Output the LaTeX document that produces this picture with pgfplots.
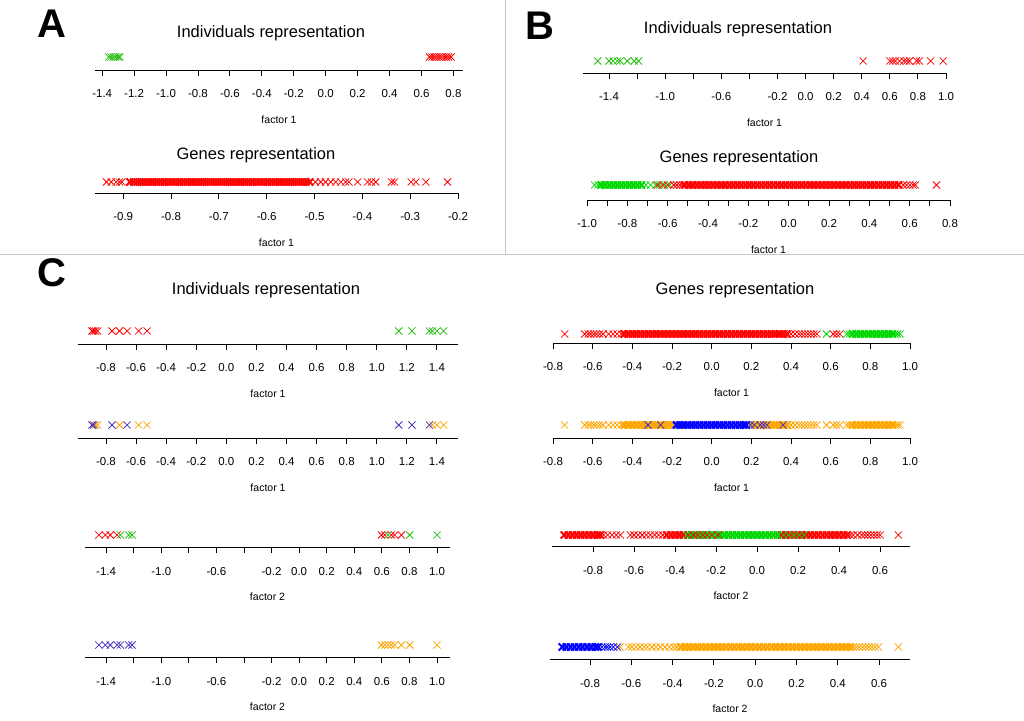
\documentclass[border=0pt]{standalone}
\usepackage{pgfplots}
\pgfplotsset{compat=1.18}
\usepackage{fontspec}
\setmainfont{Liberation Sans}
\definecolor{cred}{RGB}{255,0,0}
\definecolor{cgreen}{RGB}{0,215,0}
\definecolor{cgreenI}{RGB}{40,190,20}
\definecolor{cblue}{RGB}{0,0,255}
\definecolor{cpurple}{RGB}{70,50,190}
\definecolor{corange}{RGB}{255,165,0}
\pgfplotsset{
  strip/.style={
    scale only axis, anchor=south west,
    axis x line*=bottom, axis y line=none,
    ymin=-1, ymax=1, clip=false,
    tick align=outside, major tick length=6pt,
    axis line style={line width=0.9pt, black},
    xtick style={line width=0.9pt, black},
    xticklabel style={font=\fontsize{11.5}{12}\selectfont, anchor=base, yshift=-22pt},
    xlabel style={font=\fontsize{10.5}{12}\selectfont, at={(axis description cs:0.5,0)}, anchor=center, yshift=-50pt},
    xlabel={factor 1},
    every axis plot/.append style={only marks, mark=x, mark size=5pt, line width=0.75pt},
  },
  band/.style={line width=2pt},
}
\begin{document}
\begin{tikzpicture}
\useasboundingbox (0,0) rectangle (1024pt,720pt);
\draw[gray!45, line width=1pt] (505pt,720pt) -- (505pt,465pt);
\draw[gray!45, line width=1pt] (0pt,465pt) -- (1024pt,465pt);
\node[font=\fontsize{40}{44}\selectfont\bfseries] at (52pt,696pt) {A};
\node[font=\fontsize{40}{44}\selectfont\bfseries] at (540pt,694pt) {B};
\node[font=\fontsize{40}{44}\selectfont\bfseries] at (52pt,447pt) {C};
\node[font=\fontsize{16.5}{18}\selectfont] at (271pt,687pt) {Individuals representation};
\node[font=\fontsize{16.5}{18}\selectfont] at (256pt,565pt) {Genes representation};
\node[font=\fontsize{16.5}{18}\selectfont] at (738pt,691pt) {Individuals representation};
\node[font=\fontsize{16.5}{18}\selectfont] at (739pt,562pt) {Genes representation};
\node[font=\fontsize{16.5}{18}\selectfont] at (266pt,430pt) {Individuals representation};
\node[font=\fontsize{16.5}{18}\selectfont] at (735pt,430pt) {Genes representation};

% ---------- A individuals
\begin{axis}[strip, at={(95pt,650pt)}, width=368pt, height=26pt, xmin=-1.445, xmax=0.86,
  xtick={-1.4,-1.2,-1.0,-0.8,-0.6,-0.4,-0.2,0,0.2,0.4,0.6,0.8},
  xticklabels={-1.4,-1.2,-1.0,-0.8,-0.6,-0.4,-0.2,0.0,0.2,0.4,0.6,0.8}]
\addplot[cgreenI] coordinates {(-1.36,0) (-1.345,0) (-1.33,0) (-1.315,0) (-1.30,0) (-1.29,0)};
\addplot[cred] coordinates {(0.65,0) (0.665,0) (0.68,0) (0.695,0) (0.71,0) (0.725,0) (0.74,0) (0.755,0) (0.77,0) (0.785,0)};
\end{axis}

% ---------- A genes
\begin{axis}[strip, at={(95pt,527pt)}, width=363pt, height=22pt, xmin=-0.959, xmax=-0.2,
  xtick={-0.9,-0.8,-0.7,-0.6,-0.5,-0.4,-0.3,-0.2},
  xticklabels={-0.9,-0.8,-0.7,-0.6,-0.5,-0.4,-0.3,-0.2}]
\addplot[cred] coordinates {(-0.935,0) (-0.925,0) (-0.915,0) (-0.908,0) (-0.903,0)
 (-0.498,0) (-0.487,0) (-0.477,0) (-0.466,0) (-0.456,0) (-0.445,0) (-0.435,0) (-0.428,0) (-0.41,0) (-0.389,0) (-0.381,0) (-0.372,0) (-0.339,0) (-0.333,0) (-0.298,0) (-0.288,0) (-0.267,0) (-0.222,0)};
\addplot[cred, band] coordinates {(-0.886,0) (-0.878,0) (-0.870,0) (-0.862,0) (-0.854,0) (-0.846,0) (-0.838,0) (-0.830,0) (-0.822,0) (-0.814,0) (-0.806,0) (-0.798,0) (-0.790,0) (-0.782,0) (-0.774,0) (-0.766,0) (-0.758,0) (-0.750,0) (-0.742,0) (-0.734,0) (-0.726,0) (-0.718,0) (-0.710,0) (-0.702,0) (-0.694,0) (-0.686,0) (-0.678,0) (-0.670,0) (-0.662,0) (-0.654,0) (-0.646,0) (-0.638,0) (-0.630,0) (-0.622,0) (-0.614,0) (-0.606,0) (-0.598,0) (-0.590,0) (-0.582,0) (-0.574,0) (-0.566,0) (-0.558,0) (-0.550,0) (-0.542,0) (-0.534,0) (-0.526,0) (-0.518,0) (-0.510,0)};
\end{axis}

% ---------- B individuals
\begin{axis}[strip, at={(583pt,647pt)}, width=363pt, height=24pt, xmin=-1.585, xmax=1.0,
  xtick={-1.4,-1.2,-1.0,-0.8,-0.6,-0.4,-0.2,0,0.2,0.4,0.6,0.8,1.0},
  xticklabels={-1.4,{},-1.0,{},-0.6,{},-0.2,0.0,0.2,0.4,0.6,0.8,1.0}]
\addplot[cgreenI] coordinates {(-1.48,0) (-1.40,0) (-1.37,0) (-1.34,0) (-1.32,0) (-1.27,0) (-1.22,0) (-1.19,0)};
\addplot[cred] coordinates {(0.41,0) (0.60,0) (0.62,0) (0.64,0) (0.67,0) (0.70,0) (0.72,0) (0.74,0) (0.79,0) (0.81,0) (0.89,0) (0.98,0)};
\end{axis}

% ---------- B genes
\begin{axis}[strip, at={(587pt,520pt)}, width=363pt, height=30pt, xmin=-1.0, xmax=0.8,
  xtick={-1.0,-0.9,-0.8,-0.7,-0.6,-0.5,-0.4,-0.3,-0.2,-0.1,0,0.1,0.2,0.3,0.4,0.5,0.6,0.7,0.8},
  xticklabels={-1.0,{},-0.8,{},-0.6,{},-0.4,{},-0.2,{},0.0,{},0.2,{},0.4,{},0.6,{},0.8}]
\addplot[cgreen] coordinates {(-0.962,0) (-0.945,0) (-0.708,0) (-0.685,0) (-0.66,0) (-0.64,0) (-0.615,0) (-0.59,0)};
\addplot[cgreen, band] coordinates {(-0.93,0) (-0.91,0) (-0.89,0) (-0.87,0) (-0.85,0) (-0.83,0) (-0.81,0) (-0.79,0) (-0.77,0) (-0.75,0) (-0.73,0)};
\addplot[cred] coordinates {(-0.65,0) (-0.625,0) (-0.60,0) (-0.57,0) (-0.555,0) (-0.54,0) (-0.527,0) (0.568,0) (0.585,0) (0.601,0) (0.617,0) (0.628,0) (0.733,0)};
\addplot[cred, band] coordinates {(-0.515,0) (-0.495,0) (-0.475,0) (-0.455,0) (-0.435,0) (-0.415,0) (-0.395,0) (-0.375,0) (-0.355,0) (-0.335,0) (-0.315,0) (-0.295,0) (-0.275,0) (-0.255,0) (-0.235,0) (-0.215,0) (-0.195,0) (-0.175,0) (-0.155,0) (-0.135,0) (-0.115,0) (-0.095,0) (-0.075,0) (-0.055,0) (-0.035,0) (-0.015,0) (0.005,0) (0.025,0) (0.045,0) (0.065,0) (0.085,0) (0.105,0) (0.125,0) (0.145,0) (0.165,0) (0.185,0) (0.205,0) (0.225,0) (0.245,0) (0.265,0) (0.285,0) (0.305,0) (0.325,0) (0.345,0) (0.365,0) (0.385,0) (0.405,0) (0.425,0) (0.445,0) (0.465,0) (0.485,0) (0.505,0) (0.525,0) (0.545,0)};
\end{axis}

% ---------- C left 1
\begin{axis}[strip, at={(78pt,376pt)}, width=380pt, height=26pt, xmin=-0.986, xmax=1.54,
  xtick={-0.8,-0.6,-0.4,-0.2,0,0.2,0.4,0.6,0.8,1.0,1.2,1.4},
  xticklabels={-0.8,-0.6,-0.4,-0.2,0.0,0.2,0.4,0.6,0.8,1.0,1.2,1.4}]
\addplot[cred] coordinates {(-0.893,0) (-0.882,0) (-0.87,0) (-0.855,0) (-0.76,0) (-0.71,0) (-0.66,0) (-0.583,0) (-0.527,0)};
\addplot[cgreenI] coordinates {(1.146,0) (1.234,0) (1.35,0) (1.37,0) (1.40,0) (1.445,0)};
\end{axis}

% ---------- C left 2
\begin{axis}[strip, at={(78pt,282pt)}, width=380pt, height=26pt, xmin=-0.986, xmax=1.54,
  xtick={-0.8,-0.6,-0.4,-0.2,0,0.2,0.4,0.6,0.8,1.0,1.2,1.4},
  xticklabels={-0.8,-0.6,-0.4,-0.2,0.0,0.2,0.4,0.6,0.8,1.0,1.2,1.4}]
\addplot[corange] coordinates {(-0.87,0) (-0.855,0) (-0.71,0) (-0.583,0) (-0.527,0) (1.37,0) (1.40,0) (1.445,0)};
\addplot[cpurple] coordinates {(-0.893,0) (-0.882,0) (-0.76,0) (-0.66,0) (1.146,0) (1.234,0) (1.35,0)};
\end{axis}

% ---------- C left 3
\begin{axis}[strip, at={(85pt,173pt)}, width=365pt, height=24pt, xmin=-1.553, xmax=1.094, xlabel={factor 2},
  xtick={-1.4,-1.2,-1.0,-0.8,-0.6,-0.4,-0.2,0,0.2,0.4,0.6,0.8,1.0},
  xticklabels={-1.4,{},-1.0,{},-0.6,{},-0.2,0.0,0.2,0.4,0.6,0.8,1.0}]
\addplot[cred] coordinates {(-1.453,0) (-1.405,0) (-1.37,0) (-1.32,0) (0.597,0) (0.621,0) (0.669,0) (0.693,0) (0.742,0)};
\addplot[cgreenI] coordinates {(-1.296,0) (-1.236,0) (-1.212,0) (0.645,0) (0.802,0) (1.0,0)};
\end{axis}

% ---------- C left 4
\begin{axis}[strip, at={(85pt,63pt)}, width=365pt, height=24pt, xmin=-1.553, xmax=1.094, xlabel={factor 2},
  xtick={-1.4,-1.2,-1.0,-0.8,-0.6,-0.4,-0.2,0,0.2,0.4,0.6,0.8,1.0},
  xticklabels={-1.4,{},-1.0,{},-0.6,{},-0.2,0.0,0.2,0.4,0.6,0.8,1.0}]
\addplot[cpurple] coordinates {(-1.453,0) (-1.405,0) (-1.37,0) (-1.32,0) (-1.296,0) (-1.236,0) (-1.212,0)};
\addplot[corange] coordinates {(0.597,0) (0.621,0) (0.645,0) (0.669,0) (0.693,0) (0.742,0) (0.802,0) (1.0,0)};
\end{axis}

% ---------- C right 1
\begin{axis}[strip, at={(553pt,377pt)}, width=357pt, height=18pt, xmin=-0.8, xmax=1.0,
  xtick={-0.8,-0.6,-0.4,-0.2,0,0.2,0.4,0.6,0.8,1.0},
  xticklabels={-0.8,-0.6,-0.4,-0.2,0.0,0.2,0.4,0.6,0.8,1.0}]
\addplot[cred] coordinates {(-0.741,0) (-0.64,0) (-0.623,0) (-0.61,0) (-0.595,0) (-0.581,0) (-0.565,0) (-0.548,0) (-0.52,0) (-0.497,0) (-0.477,0) (-0.455,0) (0.40,0) (0.42,0) (0.44,0) (0.455,0) (0.47,0) (0.485,0) (0.50,0) (0.515,0) (0.53,0) (0.613,0) (0.63,0) (0.646,0)};
\addplot[cred, band] coordinates {(-0.44,0) (-0.42,0) (-0.40,0) (-0.38,0) (-0.36,0) (-0.34,0) (-0.32,0) (-0.30,0) (-0.28,0) (-0.26,0) (-0.24,0) (-0.22,0) (-0.20,0) (-0.18,0) (-0.16,0) (-0.14,0) (-0.12,0) (-0.10,0) (-0.08,0) (-0.06,0) (-0.04,0) (-0.02,0) (0.00,0) (0.02,0) (0.04,0) (0.06,0) (0.08,0) (0.10,0) (0.12,0) (0.14,0) (0.16,0) (0.18,0) (0.20,0) (0.22,0) (0.24,0) (0.26,0) (0.28,0) (0.30,0) (0.32,0) (0.34,0) (0.36,0) (0.38,0)};
\addplot[cgreen] coordinates {(0.579,0) (0.68,0) (0.694,0) (0.925,0) (0.937,0) (0.95,0)};
\addplot[cgreen, band] coordinates {(0.71,0) (0.73,0) (0.75,0) (0.77,0) (0.79,0) (0.81,0) (0.83,0) (0.85,0) (0.87,0) (0.89,0) (0.91,0)};
\end{axis}

% ---------- C right 2
\begin{axis}[strip, at={(553pt,282pt)}, width=357pt, height=26pt, xmin=-0.8, xmax=1.0,
  xtick={-0.8,-0.6,-0.4,-0.2,0,0.2,0.4,0.6,0.8,1.0},
  xticklabels={-0.8,-0.6,-0.4,-0.2,0.0,0.2,0.4,0.6,0.8,1.0}]
\addplot[corange] coordinates {(-0.741,0) (-0.64,0) (-0.623,0) (-0.61,0) (-0.595,0) (-0.581,0) (-0.565,0) (-0.548,0) (-0.52,0) (-0.497,0) (-0.477,0) (-0.455,0) (0.40,0) (0.42,0) (0.44,0) (0.455,0) (0.47,0) (0.485,0) (0.50,0) (0.515,0) (0.53,0) (0.579,0) (0.613,0) (0.63,0) (0.646,0) (0.68,0) (0.694,0) (0.925,0) (0.937,0) (0.95,0)};
\addplot[corange, band] coordinates {(-0.44,0) (-0.42,0) (-0.40,0) (-0.38,0) (-0.36,0) (-0.34,0) (-0.32,0) (-0.30,0) (-0.28,0) (-0.26,0) (-0.24,0) (-0.22,0) (-0.20,0) (0.20,0) (0.22,0) (0.24,0) (0.26,0) (0.28,0) (0.30,0) (0.32,0) (0.34,0) (0.36,0) (0.38,0) (0.71,0) (0.73,0) (0.75,0) (0.77,0) (0.79,0) (0.81,0) (0.83,0) (0.85,0) (0.87,0) (0.89,0) (0.91,0)};
\addplot[cblue, band] coordinates {(-0.178,0) (-0.16,0) (-0.14,0) (-0.12,0) (-0.10,0) (-0.08,0) (-0.06,0) (-0.04,0) (-0.02,0) (0.00,0) (0.02,0) (0.04,0) (0.06,0) (0.08,0) (0.10,0) (0.12,0) (0.14,0) (0.16,0) (0.175,0)};
\addplot[cpurple] coordinates {(-0.321,0) (-0.257,0) (0.195,0) (0.215,0) (0.245,0) (0.262,0) (0.278,0) (0.36,0)};
\end{axis}

% ---------- C right 3
\begin{axis}[strip, at={(552pt,174pt)}, width=358pt, height=22pt, xmin=-1.0, xmax=0.746, xlabel={factor 2},
  xtick={-0.8,-0.6,-0.4,-0.2,0,0.2,0.4,0.6},
  xticklabels={-0.8,-0.6,-0.4,-0.2,0.0,0.2,0.4,0.6}]
\addplot[cred] coordinates {(-0.748,0) (-0.729,0) (-0.707,0) (-0.686,0) (-0.667,0) (-0.618,0) (-0.60,0) (-0.58,0) (-0.56,0) (-0.54,0) (-0.52,0) (-0.50,0) (-0.48,0) (-0.46,0) (0.455,0) (0.47,0) (0.49,0) (0.51,0) (0.525,0) (0.54,0) (0.555,0) (0.57,0) (0.585,0) (0.60,0) (0.689,0)};
\addplot[cred, band] coordinates {(-0.94,0) (-0.92,0) (-0.90,0) (-0.88,0) (-0.86,0) (-0.84,0) (-0.82,0) (-0.80,0) (-0.78,0) (-0.765,0) (-0.44,0) (-0.42,0) (-0.40,0) (-0.38,0) (-0.36,0) (0.12,0) (0.14,0) (0.16,0) (0.18,0) (0.20,0) (0.22,0) (0.24,0) (0.26,0) (0.28,0) (0.30,0) (0.32,0) (0.34,0) (0.36,0) (0.38,0) (0.40,0) (0.42,0) (0.44,0)};
\addplot[cgreen, band] coordinates {(-0.34,0) (-0.32,0) (-0.30,0) (-0.28,0) (-0.26,0) (-0.24,0) (-0.22,0) (-0.20,0) (-0.18,0) (-0.16,0) (-0.14,0) (-0.12,0) (-0.10,0) (-0.08,0) (-0.06,0) (-0.04,0) (-0.02,0) (0.00,0) (0.02,0) (0.04,0) (0.06,0) (0.08,0) (0.10,0)};
\addplot[cgreen] coordinates {(0.13,0) (0.155,0) (0.18,0) (0.205,0) (0.23,0)};
\addplot[cred] coordinates {(-0.335,0) (-0.31,0) (-0.29,0) (-0.265,0) (-0.245,0) (-0.22,0) (-0.19,0)};
\end{axis}

% ---------- C right 4
\begin{axis}[strip, at={(550pt,61pt)}, width=360pt, height=24pt, xmin=-0.994, xmax=0.75, xlabel={factor 2},
  xtick={-0.8,-0.6,-0.4,-0.2,0,0.2,0.4,0.6},
  xticklabels={-0.8,-0.6,-0.4,-0.2,0.0,0.2,0.4,0.6}]
\addplot[corange] coordinates {(-0.655,0) (-0.614,0) (-0.598,0) (-0.577,0) (-0.558,0) (-0.538,0) (-0.522,0) (-0.50,0) (-0.48,0) (-0.46,0) (-0.437,0) (-0.416,0) (-0.396,0) (-0.38,0) (0.475,0) (0.49,0) (0.505,0) (0.52,0) (0.535,0) (0.55,0) (0.565,0) (0.58,0) (0.597,0) (0.694,0)};
\addplot[corange, band] coordinates {(-0.36,0) (-0.34,0) (-0.32,0) (-0.30,0) (-0.28,0) (-0.26,0) (-0.24,0) (-0.22,0) (-0.20,0) (-0.18,0) (-0.16,0) (-0.14,0) (-0.12,0) (-0.10,0) (-0.08,0) (-0.06,0) (-0.04,0) (-0.02,0) (0.00,0) (0.02,0) (0.04,0) (0.06,0) (0.08,0) (0.10,0) (0.12,0) (0.14,0) (0.16,0) (0.18,0) (0.20,0) (0.22,0) (0.24,0) (0.26,0) (0.28,0) (0.30,0) (0.32,0) (0.34,0) (0.36,0) (0.38,0) (0.40,0) (0.42,0) (0.44,0) (0.46,0)};
\addplot[cblue, band] coordinates {(-0.935,0) (-0.915,0) (-0.895,0) (-0.875,0) (-0.855,0) (-0.835,0) (-0.815,0) (-0.795,0) (-0.775,0) (-0.76,0)};
\addplot[cblue] coordinates {(-0.743,0) (-0.727,0) (-0.716,0) (-0.703,0) (-0.687,0) (-0.668,0)};
\end{axis}
\end{tikzpicture}
\end{document}
